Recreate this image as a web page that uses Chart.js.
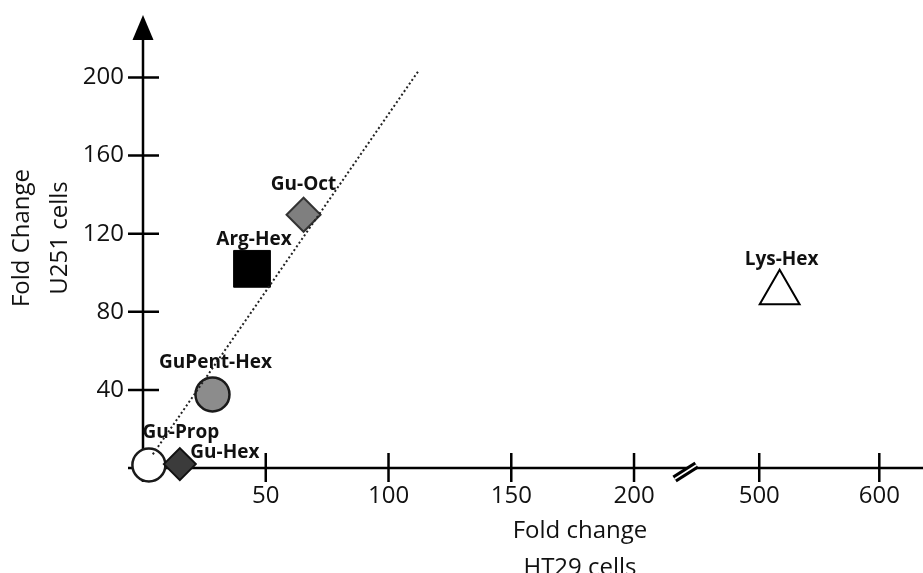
<!DOCTYPE html>
<html>
<head>
<meta charset="utf-8">
<script src="https://cdn.jsdelivr.net/npm/chart.js@4.4.0/dist/chart.umd.min.js"></script>
<style>
  html, body { margin: 0; padding: 0; background: #fff; }
</style>
</head>
<body>
<canvas id="chart" width="923" height="573"></canvas>
<script>
// Compuestos y valores de fold change
const compounds = ['Gu-Prop', 'Gu-Hex', 'GuPent-Hex', 'Arg-Hex', 'Gu-Oct', 'Lys-Hex'];
const foldHT29 = [2.4, 15, 28.3, 44.4, 65.4, 517];
const foldU251 = [1.5, 2, 37.7, 102, 129.7, 89.7];

const xTicks = [50, 100, 150, 200, 500, 600];
const yTicks = [40, 80, 120, 160, 200];

// linea punteada de referencia
const trendX = [4, 112];
const trendY = [7, 203];

// eje x cortado: 0-200 lineal, luego 500-600 comprimido
const breakFrom = 200, breakTo = 500, breakMark = 221;
function toAxis(v) {
    return v <= breakFrom ? v : 251 + (v - breakTo) * 0.489;
}

const markerStyle = ['circle', 'rectRot', 'circle', 'rect', 'rectRot', 'triangle'];
const markerRadius = [16.5, 16, 17, 26, 17, 23];
const markerFill = ['#ffffff', '#3b3b3b', '#8c8c8c', '#000000', '#7f7f7f', '#ffffff'];
const markerBorder = ['#1a1a1a', '#111111', '#1a1a1a', '#000000', '#333333', '#000000'];
const markerBorderWidth = [2.5, 2, 2.5, 1, 2, 2];
const labelOffset = [[32, -32], [45, -12], [3, -32], [2, -29], [0, -30], [2, -33]];

const tickFont = { family: 'Open Sans', size: 24 };

function noPadding(s) {
    s.paddingLeft = 0;
    s.paddingRight = 0;
    s.paddingTop = 0;
    s.paddingBottom = 0;
}

const axesPlugin = {
    id: 'axes',
    beforeDatasetsDraw(chart) {
        const { ctx, scales: { x, y } } = chart;
        const x0 = x.getPixelForValue(0);
        const y0 = y.getPixelForValue(0);
        ctx.save();
        ctx.strokeStyle = '#000';
        ctx.lineWidth = 2.5;
        ctx.beginPath();
        ctx.moveTo(x0 - 15, y0);
        ctx.lineTo(x.right, y0);
        ctx.moveTo(x0, y0 + 14);
        ctx.lineTo(x0, y.top + 24);
        xTicks.forEach(v => {
            const px = x.getPixelForValue(toAxis(v));
            ctx.moveTo(px, y0 - 15);
            ctx.lineTo(px, y0 + 14);
        });
        yTicks.forEach(v => {
            const py = y.getPixelForValue(v);
            ctx.moveTo(x0 - 15, py);
            ctx.lineTo(x0 + 16, py);
        });
        ctx.stroke();

        // flecha
        ctx.fillStyle = '#000';
        ctx.beginPath();
        ctx.moveTo(x0, y.top);
        ctx.lineTo(x0 - 10.5, y.top + 25);
        ctx.lineTo(x0 + 10.5, y.top + 25);
        ctx.closePath();
        ctx.fill();

        // corte del eje
        const bx = x.getPixelForValue(breakMark);
        const by = y0 + 4;
        ctx.lineWidth = 8;
        ctx.beginPath();
        ctx.moveTo(bx - 11, by + 7);
        ctx.lineTo(bx + 11, by - 7);
        ctx.stroke();
        ctx.strokeStyle = '#fff';
        ctx.lineWidth = 1.5;
        ctx.stroke();
        ctx.restore();
    },
    afterDatasetsDraw(chart) {
        const { ctx } = chart;
        const meta = chart.getDatasetMeta(1);
        ctx.save();
        ctx.fillStyle = '#111';
        ctx.textAlign = 'center';
        ctx.textBaseline = 'middle';
        ctx.font = 'bold 19px "Open Sans"';
        meta.data.forEach((pt, i) => {
            ctx.fillText(compounds[i], pt.x + labelOffset[i][0], pt.y + labelOffset[i][1]);
        });

        // titulos de ejes
        ctx.font = '24px "Open Sans"';
        ctx.textBaseline = 'alphabetic';
        ctx.fillText('Fold change', 580, 538);
        ctx.fillText('HT29 cells', 580, 575);
        ctx.translate(0, 238);
        ctx.rotate(-Math.PI / 2);
        ctx.fillText('Fold Change', 0, 29);
        ctx.fillText('U251 cells', 0, 67);
        ctx.restore();
    }
};

new Chart(document.getElementById('chart'), {
    type: 'scatter',
    data: {
        datasets: [
            {
                data: trendX.map((v, i) => ({ x: toAxis(v), y: trendY[i] })),
                showLine: true,
                borderColor: '#222',
                borderWidth: 2,
                borderDash: [2, 2.5],
                pointRadius: 0,
                order: 0
            },
            {
                data: foldHT29.map((v, i) => ({ x: toAxis(v), y: foldU251[i] })),
                pointStyle: markerStyle,
                pointRadius: markerRadius,
                pointHoverRadius: markerRadius,
                pointBackgroundColor: markerFill,
                pointBorderColor: markerBorder,
                pointBorderWidth: markerBorderWidth,
                clip: false,
                order: 1
            }
        ]
    },
    options: {
        responsive: false,
        animation: false,
        layout: { autoPadding: false, padding: { top: 15, right: 0, bottom: 0, left: 0 } },
        plugins: {
            legend: { display: false },
            tooltip: { enabled: false }
        },
        scales: {
            x: {
                type: 'linear',
                min: 0,
                max: 317.7,
                afterFit(s) { s.height = 105; noPadding(s); },
                afterBuildTicks(s) { s.ticks = xTicks.map(v => ({ value: toAxis(v) })); },
                grid: { display: false, drawTicks: false },
                border: { display: false },
                ticks: {
                    autoSkip: false,
                    maxRotation: 0,
                    padding: 14,
                    color: '#111',
                    font: tickFont,
                    callback: (v, i) => xTicks[i]
                }
            },
            y: {
                type: 'linear',
                min: 0,
                max: 232,
                afterFit(s) { s.width = 143; noPadding(s); },
                afterBuildTicks(s) { s.ticks = yTicks.map(v => ({ value: v })); },
                grid: { display: false, drawTicks: false },
                border: { display: false },
                ticks: {
                    padding: 19,
                    color: '#111',
                    font: tickFont,
                    callback: (v, i) => yTicks[i]
                }
            }
        }
    },
    plugins: [axesPlugin]
});
</script>
</body>
</html>
